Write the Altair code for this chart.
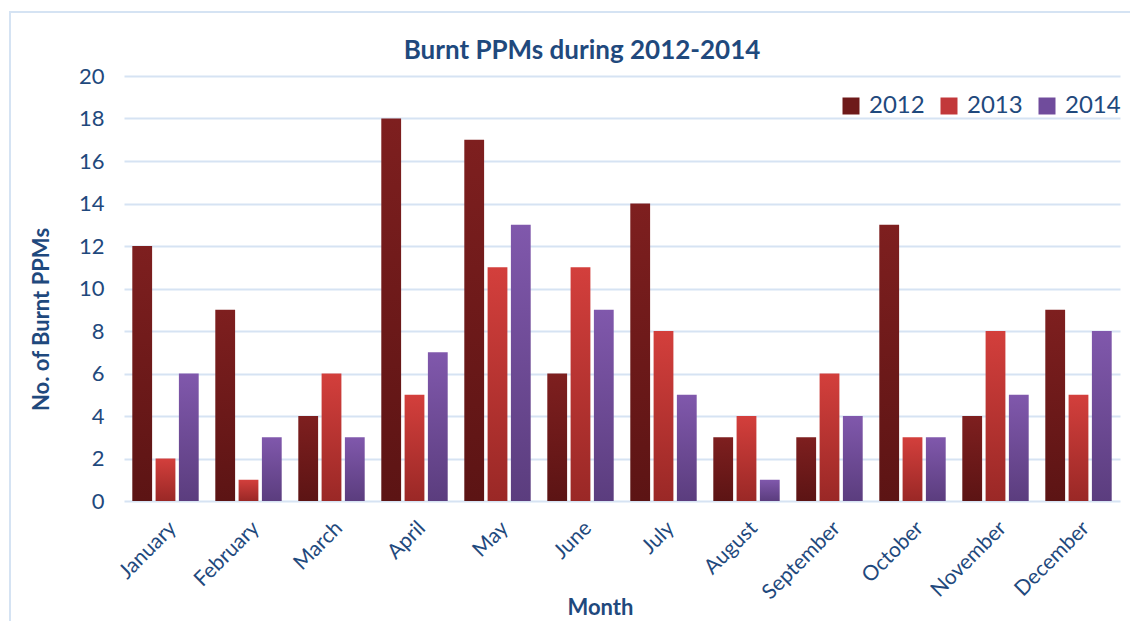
import altair as alt
import pandas as pd

months = ["January", "February", "March", "April", "May", "June", "July",
          "August", "September", "October", "November", "December"]
years = ["2012", "2013", "2014"]
v2012 = [12, 9, 4, 18, 17, 6, 14, 3, 3, 13, 4, 9]
v2013 = [2, 1, 6, 5, 11, 11, 8, 4, 6, 3, 8, 5]
v2014 = [6, 3, 3, 7, 13, 9, 5, 1, 4, 3, 5, 8]

rows = []
for y, vals in zip(years, [v2012, v2013, v2014]):
    for m, v in zip(months, vals):
        rows.append({"Month": m, "Year": y, "Value": v})
df = pd.DataFrame(rows)

flat = ["#6E1A1A", "#C2383A", "#704C9C"]
grads = {
    "2012": ("#7E1F1F", "#5C1414"),
    "2013": ("#D33F3C", "#9A2826"),
    "2014": ("#8058AC", "#5B3D7E"),
}
txt = "#1F497D"
font = "Lato"

x_enc = alt.X("Month:N", sort=months, scale=alt.Scale(paddingInner=0.2, paddingOuter=0.1),
              axis=alt.Axis(title="Month", labelAngle=-45, labelAlign="right",
                            labelBaseline="top", labelFontSize=21, labelColor=txt,
                            labelPadding=16, ticks=False, domain=False,
                            titleFontSize=22, titleColor=txt, titleFontWeight="bold",
                            titleX=476, titleY=96, titleBaseline="top"))
xo_enc = alt.XOffset("Year:N", sort=years, scale=alt.Scale(domain=years, paddingInner=0.15))
y_enc = alt.Y("Value:Q", scale=alt.Scale(domain=[0, 20]),
              axis=alt.Axis(title="No. of Burnt PPMs", values=list(range(0, 21, 2)),
                            labelFontSize=22, labelColor=txt, labelPadding=20,
                            ticks=False, domain=False, gridColor="#D6E3F3",
                            gridWidth=2, titleFontSize=22, titleColor=txt,
                            titleFontWeight="bold", titlePadding=25, titleY=243))

base = alt.Chart(df)
layers = []
for y in years:
    top, bot = grads[y]
    g = alt.Gradient(gradient="linear", x1=0, y1=0, x2=0, y2=1,
                     stops=[alt.GradientStop(color=top, offset=0),
                            alt.GradientStop(color=bot, offset=1)])
    layers.append(base.transform_filter(alt.datum.Year == y).mark_bar().encode(
        x=x_enc, xOffset=xo_enc, y=y_enc, fill=alt.value(g)))

legend_layer = base.mark_bar(opacity=0).encode(
    x=x_enc, xOffset=xo_enc, y=y_enc,
    color=alt.Color("Year:N", sort=years,
                    scale=alt.Scale(domain=years, range=flat),
                    legend=alt.Legend(title=None, orient="none", direction="horizontal",
                                      legendX=715, legendY=18, symbolType="square",
                                      symbolSize=289, symbolOpacity=1, labelFontSize=24,
                                      labelColor=txt, columnPadding=12,
                                      symbolStrokeWidth=0, labelOffset=6)),
)

frame = alt.Chart(pd.DataFrame({"f": [0]})).mark_rect(
    fill=None, stroke="#D5E3F3", strokeWidth=2
).encode(x=alt.value(-114), x2=alt.value(1011), y=alt.value(-64), y2=alt.value(580))

chart = alt.layer(frame, *layers, legend_layer).properties(
    width=996, height=425,
    title=alt.TitleParams("Burnt PPMs during 2012-2014", fontSize=26, color=txt,
                          fontWeight="bold", font=font, anchor="middle", offset=-53,
                          dx=-40, frame="group"),
    autosize=alt.AutoSizeParams(type="none"),
    padding={"left": 116, "top": 68, "right": 10, "bottom": 120},
).configure(font=font).configure_view(stroke=None).configure_axis(
    labelFont=font, titleFont=font
).configure_legend(labelFont=font)

chart.save("out.html", embed_options={"renderer": "svg", "actions": False})
